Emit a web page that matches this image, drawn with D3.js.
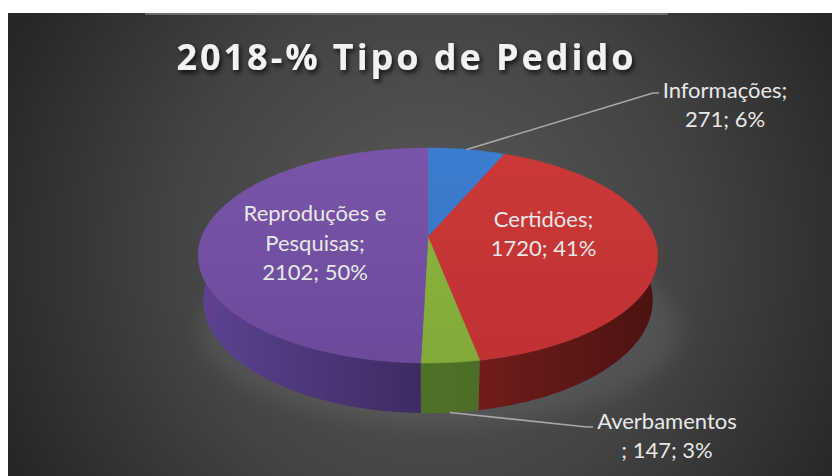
<!DOCTYPE html>
<html>
<head>
<meta charset="utf-8">
<script src="https://cdn.jsdelivr.net/npm/d3@7"></script>
<style>
  html, body { margin: 0; padding: 0; background: #fff; }
  svg { display: block; }
</style>
</head>
<body>
<div id="chart"></div>
<script>
// data
var categories = ["Informações", "Certidões", "Averbamentos", "Reproduções e Pesquisas"];
var values = [271, 1720, 147, 2102];
var percents = ["6%", "41%", "3%", "50%"];
var title = "2018-% Tipo de Pedido";

var totalWidth = 832,
    totalHeight = 476;

var topColors = ["#3b7dd0", "#cc3838", "#8cb640", "#7855a8"],
    topColorsDark = ["#3572c2", "#c03131", "#82aa3a", "#6b4a9c"],
    sideColors = ["#2a5590", "#7a1e1e", "#50702a", "#5e4290"],
    sideColorsDark = ["#1f4070", "#4a1212", "#435e1e", "#3d2a60"];

// simple perspective camera looking down on a disk
var cx = 428, cy = 237,
    F = 1138, D = 5.13,
    sinP = 0.47, cosP = 0.883,
    thick = 0.231, sx = 1.02;

function proj(theta, r, y) {
    var px = r * Math.cos(theta),
        pz = r * Math.sin(theta);
    var d = D - (y * sinP + pz * cosP);
    var u = y * cosP - pz * sinP;
    return [cx + sx * F * px / d, cy - F * u / d];
}

function rim(t0, t1, y) {
    var n = Math.max(2, Math.ceil(Math.abs(t1 - t0) / (Math.PI / 180)));
    return d3.range(n + 1).map(function(i) {
        return proj(t0 + (t1 - t0) * i / n, 1, y);
    });
}

var svg = d3.select("#chart").append("svg")
    .attr("width", totalWidth)
    .attr("height", totalHeight);

var defs = svg.append("defs");

var bg = defs.append("radialGradient")
    .attr("id", "bg")
    .attr("gradientUnits", "userSpaceOnUse")
    .attr("cx", 430).attr("cy", 250).attr("r", 470);
bg.append("stop").attr("offset", 0).attr("stop-color", "#5a5a5a");
bg.append("stop").attr("offset", 0.55).attr("stop-color", "#434343");
bg.append("stop").attr("offset", 1).attr("stop-color", "#262626");

var shadow = defs.append("filter").attr("id", "tshadow")
    .attr("x", "-10%").attr("y", "-30%").attr("width", "120%").attr("height", "160%");
shadow.append("feDropShadow")
    .attr("dx", 2).attr("dy", 3).attr("stdDeviation", 2.5)
    .attr("flood-color", "#000").attr("flood-opacity", 0.75);

var glow = defs.append("filter").attr("id", "glow")
    .attr("x", "-20%").attr("y", "-20%").attr("width", "140%").attr("height", "150%");
glow.append("feGaussianBlur").attr("stdDeviation", 10);

values.forEach(function(v, i) {
    var g1 = defs.append("linearGradient").attr("id", "top" + i)
        .attr("gradientUnits", "userSpaceOnUse")
        .attr("x1", 0).attr("y1", 148).attr("x2", 0).attr("y2", 363);
    g1.append("stop").attr("offset", 0).attr("stop-color", topColors[i]);
    g1.append("stop").attr("offset", 1).attr("stop-color", topColorsDark[i]);
    var g2 = defs.append("linearGradient").attr("id", "side" + i)
        .attr("gradientUnits", "userSpaceOnUse")
        .attr("x1", i == 3 ? 200 : 440).attr("y1", 0)
        .attr("x2", i == 3 ? 430 : 660).attr("y2", 0);
    g2.append("stop").attr("offset", 0).attr("stop-color", sideColors[i]);
    g2.append("stop").attr("offset", 1).attr("stop-color", sideColorsDark[i]);
});

// panel
svg.append("rect")
    .attr("x", 8).attr("y", 13)
    .attr("width", totalWidth - 8).attr("height", totalHeight - 13)
    .attr("fill", "url(#bg)");
svg.append("line")
    .attr("x1", 145).attr("x2", 668).attr("y1", 14).attr("y2", 14)
    .attr("stroke", "#7d7d7d").attr("stroke-width", 1.5);

// title
svg.append("text")
    .attr("x", 405).attr("y", 70)
    .attr("text-anchor", "middle")
    .attr("textLength", 457)
    .attr("lengthAdjust", "spacing")
    .attr("font-family", "'Open Sans', sans-serif")
    .attr("font-weight", "bold")
    .attr("font-size", 36)
    .attr("fill", "#f2f2f2")
    .attr("filter", "url(#tshadow)")
    .text(title);

var pie = d3.pie().sort(null).value(function(d) { return d; });
var arcs = pie(values);
var line = d3.line();

// soft light under the disk
svg.append("ellipse")
    .attr("cx", 440).attr("cy", 330).attr("rx", 240).attr("ry", 95)
    .attr("fill", "#6a6a6a").attr("opacity", 0.35)
    .attr("filter", "url(#glow)");

// side walls (only the front half shows)
arcs.forEach(function(a, i) {
    var t0 = Math.max(a.startAngle - Math.PI / 2, 0),
        t1 = Math.min(a.endAngle - Math.PI / 2, Math.PI);
    if (t1 <= t0) return;
    var pts = rim(t0, t1, 0).concat(rim(t1, t0, -thick));
    svg.append("path")
        .attr("d", line(pts) + "Z")
        .attr("fill", "url(#side" + i + ")");
});

// top faces
arcs.forEach(function(a, i) {
    var pts = [proj(0, 0, 0)].concat(rim(a.startAngle - Math.PI / 2, a.endAngle - Math.PI / 2, 0));
    svg.append("path")
        .attr("d", line(pts) + "Z")
        .attr("fill", "url(#top" + i + ")")
        .attr("stroke", "url(#top" + i + ")")
        .attr("stroke-width", 0.6);
});

var labelFont = "Lato, 'Open Sans', sans-serif";

// labels inside the big slices
function inside(i, lines, dx, dy) {
    var a = arcs[i];
    var mid = (a.startAngle + a.endAngle) / 2 - Math.PI / 2;
    var p = proj(mid, 0.5, 0);
    var t = svg.append("text")
        .attr("text-anchor", "middle")
        .attr("font-family", labelFont)
        .attr("font-size", 22)
        .attr("fill", "#e8e8e8");
    var y0 = p[1] + dy - (lines.length - 1) * 29.5 / 2 + 8;
    lines.forEach(function(s, k) {
        t.append("tspan").attr("x", p[0] + dx).attr("y", y0 + k * 29.5).text(s);
    });
}
inside(3, ["Reproduções e", "Pesquisas;", values[3] + "; " + percents[3]], 0, 6.5);
inside(1, ["Certidões;", values[1] + "; " + percents[1]], 2, -9);

// outside labels with leader lines
function outside(i, y, end, tx, ty, lines) {
    var a = arcs[i];
    var mid = (a.startAngle + a.endAngle) / 2 - Math.PI / 2;
    var p = proj(mid, 1, y);
    svg.append("path")
        .attr("d", line([p, end, [end[0] + 6, end[1]]]))
        .attr("fill", "none")
        .attr("stroke", "#a8a8a8")
        .attr("stroke-width", 1.6);
    var t = svg.append("text")
        .attr("text-anchor", "middle")
        .attr("font-family", labelFont)
        .attr("font-size", 22)
        .attr("fill", "#e8e8e8");
    lines.forEach(function(s, k) {
        t.append("tspan").attr("x", tx).attr("y", ty + k * 28.5).text(s);
    });
}
outside(0, 0, [653, 93], 725, 98, [categories[0] + ";", values[0] + "; " + percents[0]]);
outside(2, -thick, [587, 427], 667, 429, [categories[2], "; " + values[2] + "; " + percents[2]]);
</script>
</body>
</html>
